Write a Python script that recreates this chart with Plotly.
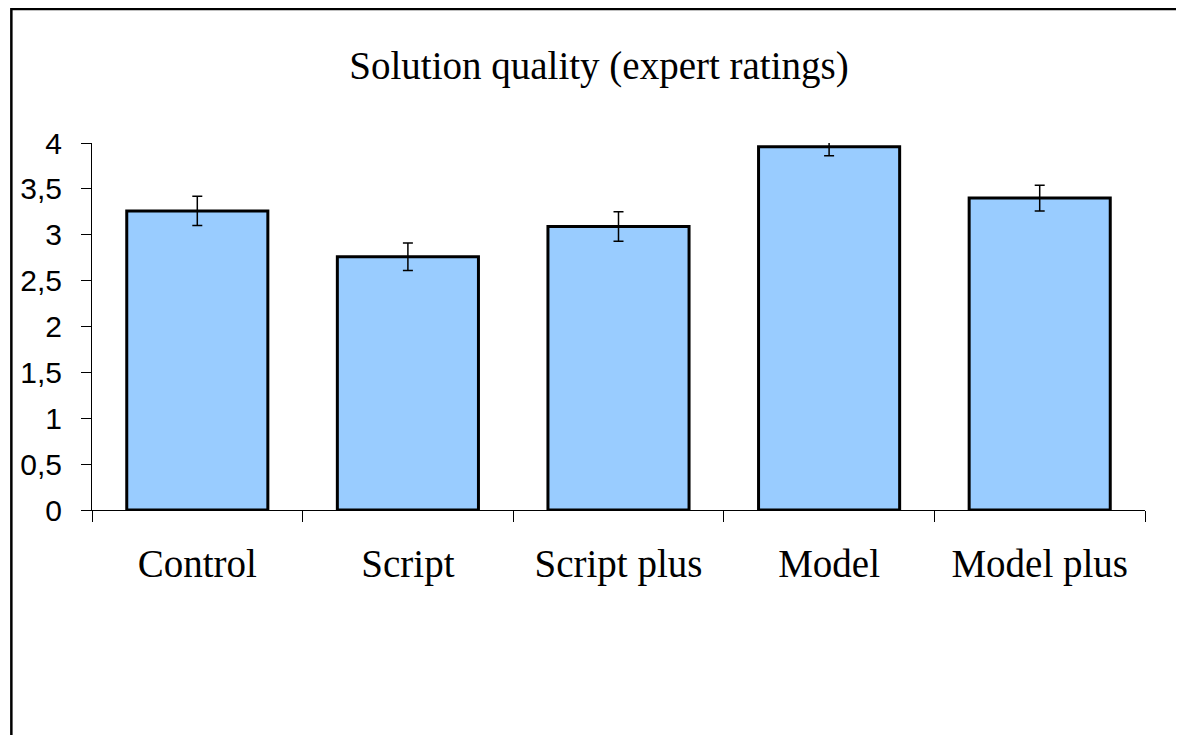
import plotly.graph_objects as go

categories = ["Control", "Script", "Script plus", "Model", "Model plus"]
means = [3.26, 2.76, 3.09, 3.96, 3.40]
errors = [0.16, 0.15, 0.16, 0.10, 0.14]
y_tickvals = [0, 0.5, 1, 1.5, 2, 2.5, 3, 3.5, 4]
y_ticktext = ["0", "0,5", "1", "1,5", "2", "2,5", "3", "3,5", "4"]
title_text = "Solution quality (expert ratings)"

# page body has an 8px offset
OFF = 8
W, H = 1184 - OFF, 735 - OFF
L, R, T, B = 90 - OFF, 1145 - OFF, 143 - OFF, 510 - OFF
pw, ph = R - L, B - T

fig = go.Figure()
fig.add_trace(go.Bar(
    x=categories, y=means,
    marker=dict(color="#99CCFF", line=dict(color="black", width=3)),
    error_y=dict(type="data", array=errors, visible=True, color="black", thickness=1.5, width=5),
    cliponaxis=True,
))

def px_to_paper_x(px):
    return (px - OFF - L) / pw

def px_to_paper_y(py):
    return (B - (py - OFF)) / ph

fig.add_shape(type="rect", xref="paper", yref="paper",
              x0=px_to_paper_x(9.2), x1=px_to_paper_x(1250),
              y0=px_to_paper_y(800), y1=px_to_paper_y(9.0),
              line=dict(color="black", width=2.5), fillcolor="rgba(0,0,0,0)", layer="above")

fig.update_layout(
    width=W, height=H,
    margin=dict(l=L, r=W - R, t=T, b=H - B, pad=0),
    paper_bgcolor="white", plot_bgcolor="white",
    bargap=0.33,
    showlegend=False,
    title=dict(text=title_text, x=(599 - OFF) / W, xanchor="center", y=1 - (65 - OFF) / H, yanchor="middle",
               yref="container", font=dict(family="Liberation Serif", size=39, color="black")),
    xaxis=dict(type="category", showgrid=False, showline=True, linecolor="black", linewidth=1,
               ticks="outside", tickson="boundaries", ticklen=11, tickcolor="black", tickwidth=1,
               tickfont=dict(family="Liberation Serif", size=39, color="black"),
               range=[-0.5, 4.5], ticklabelstandoff=19),
    yaxis=dict(range=[0, 4], showgrid=False, zeroline=False, showline=True, linecolor="black", linewidth=1,
               ticks="outside", ticklen=10, tickcolor="black", tickwidth=1,
               tickvals=y_tickvals, ticktext=y_ticktext,
               tickfont=dict(family="Liberation Sans", size=30, color="black"),
               ticklabelstandoff=13),
)

fig.write_html("out.html")
